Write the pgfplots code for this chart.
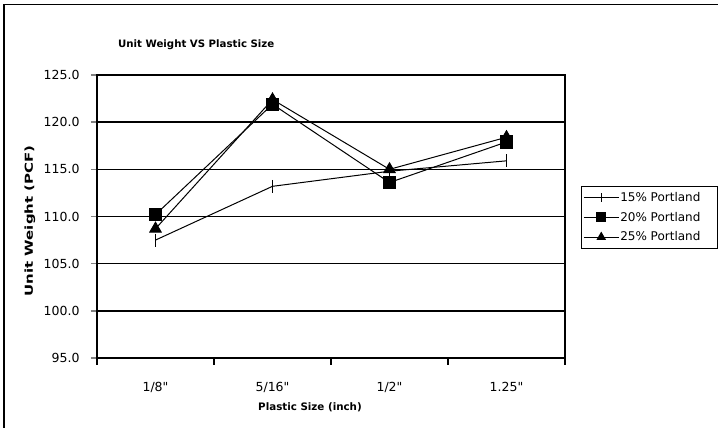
\documentclass[border=0pt]{standalone}
\usepackage{pgfplots}
\pgfplotsset{compat=1.18}
\usepackage{fontspec}
\setmainfont{DejaVu Sans}[Ligatures=TeXOff]

% Unit weight (PCF) for each plastic size, one table per Portland content
\pgfplotstableread{
x y
0 107.5
1 113.2
2 114.8
3 115.9
}\portlandA
\pgfplotstableread{
x y
0 110.2
1 121.9
2 113.6
3 117.9
}\portlandB
\pgfplotstableread{
x y
0 108.7
1 122.4
2 115.0
3 118.4
}\portlandC

\begin{document}
\begin{tikzpicture}[x=1pt,y=1pt]
\path[use as bounding box] (0,0) rectangle (718,428);
% outer chart frame
\draw[line width=1.6pt] (4,0) -- (4,423.5) -- (718,423.5);
% chart title
\node[anchor=west,font=\fontsize{10.2}{12}\selectfont\bfseries,inner sep=0pt] at (118,383) {Unit Weight VS Plastic Size};
% y axis label
\node[rotate=90,font=\fontsize{11}{12}\selectfont\bfseries,inner sep=0pt] at (30,207) {\scalebox{1.36}[1]{Unit Weight (PCF)}};
% x axis label
\node[font=\fontsize{10.3}{12}\selectfont\bfseries,inner sep=0pt] at (310,21) {Plastic Size (inch)};
\begin{axis}[
  at={(97pt,70pt)}, anchor=south west,
  scale only axis, width=468pt, height=283pt,
  xmin=-0.5, xmax=3.5, ymin=95, ymax=125,
  xtick={0,1,2,3},
  xticklabels={1/8",5/16",1/2",1.25"},
  minor xtick={-0.5,0.5,1.5,2.5,3.5},
  ytick={95,100,...,125},
  xtick pos=bottom, ytick pos=left,
  /pgf/number format/fixed,
  /pgf/number format/fixed zerofill,
  /pgf/number format/precision=1,
  /pgf/number format/assume math mode=true,
  tick align=outside,
  major tick length=6pt, minor tick length=7pt,
  x tick style={draw=none},
  minor x tick style={draw=black,line width=1.6pt},
  y tick style={line width=1.6pt},
  ymajorgrids,
  grid style={line width=1.6pt,black},
  axis line style={line width=1.6pt},
  ticklabel style={font=\fontsize{12.5}{14}\selectfont},
  xticklabel style={yshift=-15pt},
  yticklabel style={xshift=-8pt},
  clip=false,
  legend style={at={(1.327,0.608)},anchor=north east, draw=black, line width=1.2pt,
    font=\fontsize{12}{14}\selectfont, inner xsep=2pt, inner ysep=5pt, row sep=7pt,
    legend cell align=left,
    nodes={inner sep=1pt}},
  legend image code/.code={
    \draw[line width=1pt,mark size=4.5pt,mark repeat=2,mark phase=2] plot coordinates {(0pt,0pt) (17.5pt,0pt) (35pt,0pt)};},
]
\addplot[black, line width=1pt, mark=|, mark size=6.5pt, mark options={line width=1.3pt}] table {\portlandA};
\addlegendentry{15\% Portland\rule{14pt}{0pt}}
\addplot[black, line width=1pt, mark=square*, mark size=6.2pt] table {\portlandB};
\addlegendentry{20\% Portland\rule{14pt}{0pt}}
\addplot[black, line width=1pt, mark=triangle*, mark size=6.5pt] table {\portlandC};
\addlegendentry{25\% Portland\rule{14pt}{0pt}}
\end{axis}
\end{tikzpicture}
\end{document}
